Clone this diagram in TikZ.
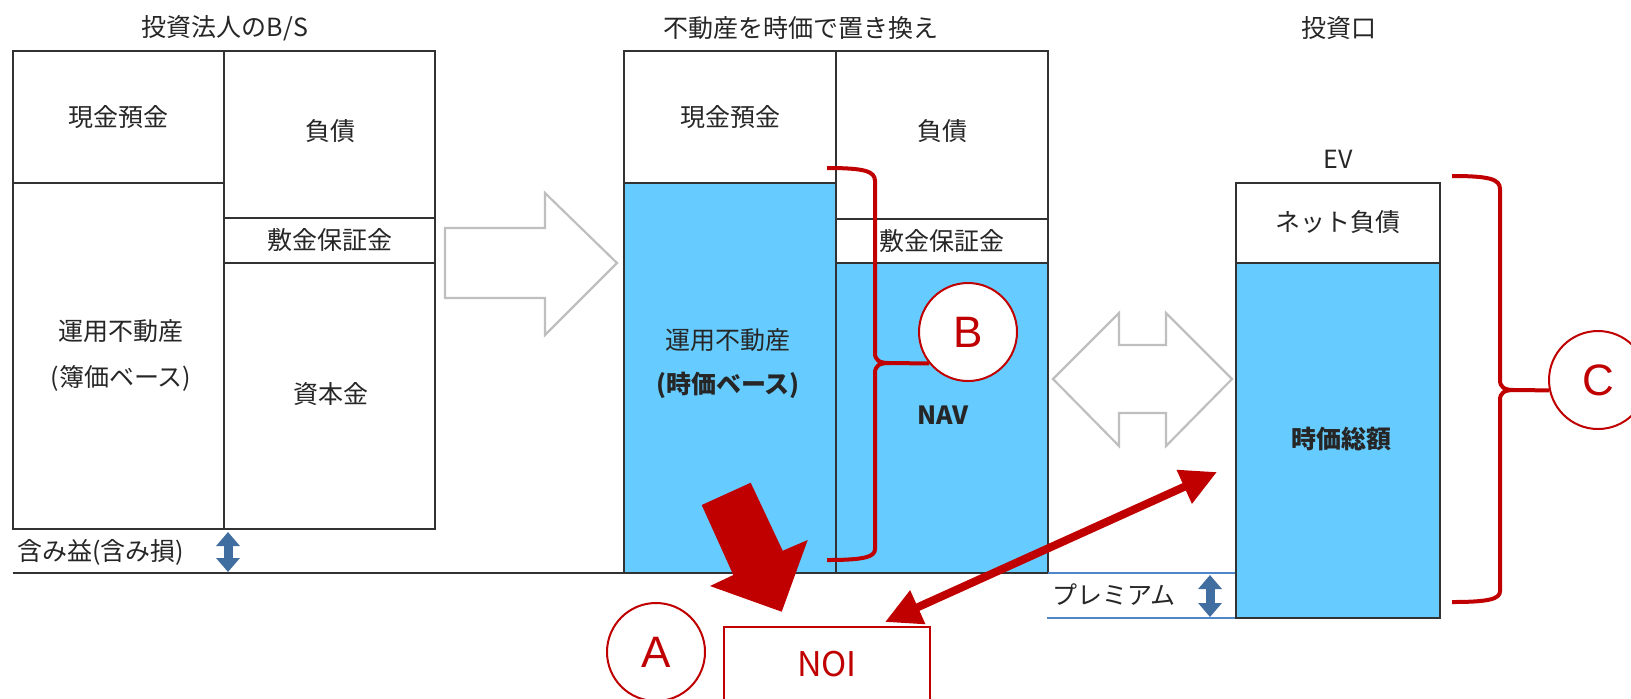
\documentclass[tikz,border=0pt]{standalone}
\usepackage{fontspec}
\setmainfont{Noto Sans CJK JP}
\newfontfamily\latinsans{Liberation Sans}
\usetikzlibrary{arrows.meta}
\definecolor{blu}{RGB}{102,204,255}
\definecolor{redc}{RGB}{192,0,0}
\definecolor{gryc}{RGB}{191,191,191}
\definecolor{steel}{RGB}{65,110,160}
\definecolor{linec}{RGB}{50,50,50}
\definecolor{prem}{RGB}{80,135,200}
\definecolor{txtc}{RGB}{38,38,38}
\begin{document}
\begin{tikzpicture}[x=0.5pt,y=-0.5pt,
  box/.style={draw=linec,line width=0.9pt},
  txt/.style={font=\fontsize{12.5}{16}\selectfont,text=txtc,inner sep=0pt,align=center},
  btxt/.style={txt,font=\fontsize{12.5}{16}\selectfont\bfseries},
  bigletter/.style={circle,draw=redc,line width=1pt,fill=white,minimum size=49pt,inner sep=0pt,text=redc,font=\latinsans\fontsize{22}{24}\selectfont},
  bracec/.style={draw=redc,line width=2pt},
  blockarrow/.style={draw=gryc,line width=1.1pt,fill=white},
  dblblue/.style={draw=steel,line width=4.5pt,{Triangle[length=7pt,width=11.5pt]}-{Triangle[length=7pt,width=11.5pt]}}
]
\useasboundingbox (0,0) rectangle (1631,698);
\clip (0,0) rectangle (1631,698);

% ---------- left B/S ----------
\draw[box] (12.7,51) rectangle (435,529);
\draw[box] (224,51) -- (224,529);
\draw[box] (12.7,183) -- (224,183);
\draw[box] (224,218) -- (435,218);
\draw[box] (224,263) -- (435,263);
\draw[box] (12.7,573) -- (624,573);

\node[txt] (t1) at (225,28) {投資法人のB/S};
\node[txt] (l1) at (118,117) {現金預金};
\node[txt] (l2) at (330,131) {負債};
\node[txt] (l3) at (330,240) {敷金保証金};
\node[txt] (l4) at (331,394) {資本金};
\node[txt] (l5) at (121,355) {運用不動産\\[7pt](簿価ベース)};
\node[txt,anchor=west] (l6) at (17,552) {含み益(含み損)};
\coordinate (ga1) at (228,532);
\coordinate (ga2) at (228,572);
\draw[dblblue] (ga1) -- (ga2);

% ---------- block arrow ----------
\draw[blockarrow] (445,228) -- (545,228) -- (545,193) -- (617,263) -- (545,335) -- (545,298) -- (445,298) -- cycle;

% ---------- middle ----------
\fill[blu] (624,183) rectangle (836,573);
\fill[blu] (836,263) rectangle (1048,573);
\draw[box] (624,51) rectangle (1048,573);
\draw[box] (836,51) -- (836,573);
\draw[box] (624,183) -- (836,183);
\draw[box] (836,219) -- (1048,219);
\draw[box] (836,263) -- (1048,263);

\node[txt] (t2) at (801,28) {不動産を時価で置き換え};
\node[txt] (m1) at (730,117) {現金預金};
\node[txt] (m2) at (942,131) {負債};
\node[txt] (m3) at (942,241) {敷金保証金};
\node[txt] (m4) at (728,340) {運用不動産};
\node[btxt] (m5) at (728,385) {(時価ベース)};
\node[btxt] (m6) at (943,415) {NAV};

% ---------- double block arrow ----------
\draw[blockarrow] (1053,379) -- (1119,313) -- (1119,345) -- (1166,345) -- (1166,313) -- (1232,379) -- (1166,446) -- (1166,413) -- (1119,413) -- (1119,446) -- cycle;

% ---------- EV ----------
\draw[prem,line width=0.9pt] (1048,573) -- (1236,573);
\draw[prem,line width=0.9pt] (1047,618) -- (1236,618);
\fill[blu] (1236,263) rectangle (1440,618);
\draw[box] (1236,183) rectangle (1440,618);
\draw[box] (1236,263) -- (1440,263);

\node[txt] (t3) at (1339,28) {投資口};
\node[txt] (e0) at (1338,159) {EV};
\node[txt] (e1) at (1338,222) {ネット負債};
\node[btxt] (e2) at (1341,439) {時価総額};
\node[txt,anchor=west] (p0) at (1052,595) {プレミアム};
\coordinate (pa1) at (1210,575);
\coordinate (pa2) at (1210,617);
\draw[dblblue] (pa1) -- (pa2);

% ---------- circles ----------
\node[bigletter] (cA) at (656,652) {A};
\node[bigletter] (cB) at (968,332) {B};
\node[bigletter] (cC) at (1598,380) {C};

% ---------- brace B ----------
\coordinate (bBt) at (827,168);
\coordinate (bBb) at (827,560);
\coordinate (bBtip) at (889,363);
\draw[bracec] (bBt) .. controls (864,168) and (875,171) .. (875,181) -- (875,353)
  .. controls (875,360) and (879,363) .. (bBtip) -- (cB.219);
\draw[bracec] (bBtip) .. controls (879,363) and (875,366) .. (875,373) -- (875,549)
  .. controls (875,557) and (864,560) .. (bBb);

% ---------- brace C ----------
\coordinate (bCt) at (1452,176);
\coordinate (bCb) at (1452,602);
\coordinate (bCtip) at (1514,390);
\draw[bracec] (bCt) .. controls (1489,176) and (1500,179) .. (1500,189) -- (1500,380)
  .. controls (1500,387) and (1504,390) .. (bCtip) -- (cC.192);
\draw[bracec] (bCtip) .. controls (1504,390) and (1500,393) .. (1500,400) -- (1500,591)
  .. controls (1500,599) and (1489,602) .. (bCb);

% ---------- NOI ----------
\node[draw=redc,line width=1pt,minimum width=103pt,minimum height=40pt,anchor=north west,inner sep=0pt] (noi) at (723,626) {};
\node[text=redc,font=\fontsize{17}{20}\selectfont,inner sep=0pt] (noit) at (827,664) {NOI};

% big red arrow
\fill[redc] (701.7,505) -- (750.7,482.7) -- (782.7,550.7) -- (807.7,540) -- (781.7,611.7) -- (710,586) -- (733.3,575) -- cycle;

% thin red double arrow
\coordinate (r1) at (885,622);
\coordinate (r2) at (1217,472);
\draw[redc,line width=4pt,{Triangle[length=18pt,width=17.5pt]}-{Triangle[length=18pt,width=17.5pt]}] (r1) -- (r2);
\end{tikzpicture}
\end{document}
